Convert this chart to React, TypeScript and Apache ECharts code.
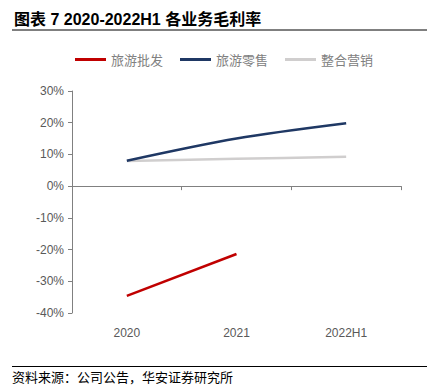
import React, { useEffect, useRef } from "react";
import * as echarts from "echarts";

const categories = ["2020", "2021", "2022H1"];
const wholesale = [-34.6, -21.4, null];
const retail = [8.0, 15.0, 19.8];
const marketing = [7.9, 8.6, 9.3];
const seriesNames = ["旅游批发", "旅游零售", "整合营销"];
const colors = ["#C00000", "#1F3864", "#D0CECE"];
const titleText = "图表 7 2020-2022H1 各业务毛利率";
const sourceText = "资料来源：公司公告，华安证券研究所";

export default function App() {
  const ref = useRef<HTMLDivElement>(null);
  useEffect(() => {
    const chart = echarts.init(ref.current!, null, { renderer: "svg" });
    const cjk = "'Noto Sans CJK SC', sans-serif";
    const mixed = "'Liberation Sans', 'Noto Sans CJK SC', sans-serif";
    const latin = "'Liberation Sans', Arial, sans-serif";
    chart.setOption({
      animation: false,
      backgroundColor: "#fff",
      graphic: [
        {
          type: "text",
          left: 14,
          top: 11,
          style: { text: titleText, font: `bold 16px ${mixed}`, fill: "#000" },
        },
        {
          type: "line",
          shape: { x1: 12, y1: 30, x2: 427, y2: 30 },
          style: { stroke: "#000", lineWidth: 1 },
        },
        {
          type: "line",
          shape: { x1: 12, y1: 366.5, x2: 427, y2: 366.5 },
          style: { stroke: "#000", lineWidth: 1 },
        },
        {
          type: "text",
          left: 12,
          top: 370,
          style: { text: sourceText, font: `13px ${cjk}`, fill: "#000" },
        },
      ],
      legend: {
        top: 48,
        left: 70,
        icon: "rect",
        itemWidth: 31,
        itemHeight: 3,
        itemGap: 17,
        textStyle: { fontFamily: cjk, fontSize: 13, color: "#808080" },
        data: seriesNames,
      },
      grid: { left: 72, right: 26, top: 91, bottom: 76 },
      xAxis: [
        {
          type: "category",
          data: categories,
          boundaryGap: true,
          axisLine: { onZero: true, lineStyle: { color: "#808080", width: 1 } },
          axisTick: { show: true, length: 4, lineStyle: { color: "#808080" } },
          axisLabel: { show: false },
        },
        {
          type: "category",
          data: categories,
          position: "bottom",
          boundaryGap: true,
          axisLine: { show: false, onZero: false },
          axisTick: { show: false },
          axisLabel: { margin: 14, fontFamily: latin, fontSize: 12, color: "#595959" },
        },
      ],
      yAxis: {
        type: "value",
        min: -40,
        max: 30,
        interval: 10,
        splitLine: { show: false },
        axisLine: { show: true, lineStyle: { color: "#808080", width: 1 } },
        axisTick: { show: true, length: 4, lineStyle: { color: "#808080" } },
        axisLabel: {
          formatter: "{value}%",
          fontFamily: latin,
          fontSize: 12,
          color: "#595959",
          margin: 8,
        },
      },
      series: [
        { name: seriesNames[0], data: wholesale },
        { name: seriesNames[1], data: retail },
        { name: seriesNames[2], data: marketing },
      ].map((s, i) => ({
        ...s,
        type: "line",
        xAxisIndex: 0,
        smooth: 0.3,
        showSymbol: false,
        symbol: "none",
        color: colors[i],
        lineStyle: { color: colors[i], width: 2.5 },
        z: 3 - i,
      })),
    });
    return () => chart.dispose();
  }, []);
  return <div ref={ref} style={{ width: 427, height: 389, position: "absolute", left: 0, top: 0 }} />;
}
